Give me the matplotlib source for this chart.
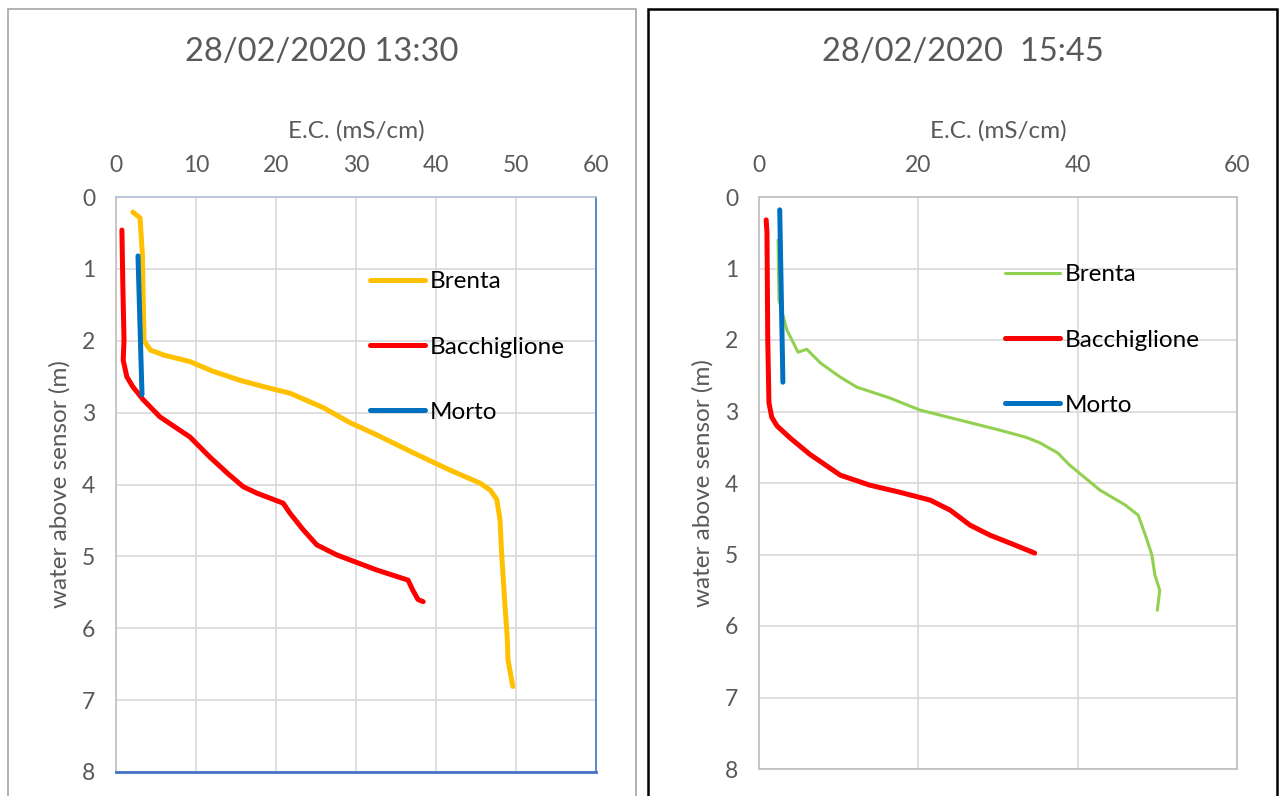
import matplotlib.pyplot as plt
from matplotlib.patches import Rectangle

plt.rcParams['font.family'] = ['Lato', 'DejaVu Sans']

# --- 28/02/2020 13:30 profiles (E.C. in mS/cm, depth in m) ---
brenta1_ec = [2.1, 3.0, 3.3, 3.4, 3.5, 4.3, 6.0, 9.25, 12.0, 15.5, 18.5, 21.75, 25.9, 29.25,
              32.6, 37.0, 41.75, 43.0, 45.5, 46.8, 47.6, 48.0, 48.2, 48.6, 48.9, 49.0, 49.6]
brenta1_h = [0.21, 0.29, 0.8, 1.43, 2.0, 2.13, 2.2, 2.29, 2.42, 2.55, 2.64, 2.73, 2.93, 3.14,
             3.31, 3.55, 3.8, 3.86, 3.98, 4.08, 4.21, 4.49, 4.95, 5.65, 6.12, 6.44, 6.81]

bacch1_ec = [0.74, 0.85, 1.0, 0.9, 1.35, 2.1, 3.4, 5.5, 9.25, 11.75, 14.0, 15.9, 17.6, 20.9,
             21.75, 23.4, 25.1, 27.6, 32.6, 36.5, 37.1, 37.75, 38.4]
bacch1_h = [0.46, 1.2, 1.99, 2.27, 2.5, 2.64, 2.82, 3.06, 3.34, 3.62, 3.85, 4.03, 4.12, 4.26,
            4.4, 4.63, 4.84, 4.98, 5.19, 5.33, 5.47, 5.6, 5.63]

morto1_ec = [2.75, 3.25]
morto1_h = [0.82, 2.75]

# --- 28/02/2020 15:45 profiles ---
brenta2_ec = [2.4, 2.5, 3.5, 4.9, 6.0, 7.7, 10.2, 12.3, 16.4, 20.2, 25.2, 30.2, 33.5, 35.3,
              37.5, 39.0, 42.8, 46.0, 47.6, 48.5, 49.3, 49.7, 50.3, 50.0]
brenta2_h = [0.6, 1.44, 1.86, 2.17, 2.13, 2.32, 2.52, 2.66, 2.81, 2.98, 3.12, 3.26, 3.36, 3.44,
             3.58, 3.75, 4.1, 4.31, 4.45, 4.73, 5.0, 5.29, 5.5, 5.78]

bacch2_ec = [0.9, 1.0, 1.1, 1.25, 1.6, 2.25, 3.9, 6.4, 10.2, 13.9, 17.7, 21.5, 24.0, 26.5, 29.0,
             31.5, 34.6]
bacch2_h = [0.32, 0.5, 2.0, 2.88, 3.08, 3.2, 3.37, 3.6, 3.89, 4.03, 4.13, 4.24, 4.38, 4.59, 4.73,
            4.84, 4.98]

morto2_ec = [2.6, 3.0]
morto2_h = [0.18, 2.59]

series_names = ['Brenta', 'Bacchiglione', 'Morto']
titles = ['28/02/2020 13:30', '28/02/2020  15:45']
xticks_left = [0, 10, 20, 30, 40, 50, 60]
xticks_right = [0, 20, 40, 60]
yticks = [0, 1, 2, 3, 4, 5, 6, 7, 8]

YELLOW = '#FFC000'
RED = '#FF0000'
BLUE = '#0070C0'
GREEN = '#92D050'
GRID = '#D9D9D9'
TXT = '#595959'

W, H = 1279, 796
fig = plt.figure(figsize=(W / 100, H / 100), dpi=100)


def px_axes(x0, y0, x1, y1):
    # pixel box (top-left origin) -> figure fraction axes
    return fig.add_axes([x0 / W, 1 - y1 / H, (x1 - x0) / W, (y1 - y0) / H])


# panel frames
fig.add_artist(Rectangle((8 / W, -0.05), 628 / W, 1.05 - 9 / H, transform=fig.transFigure,
                         fill=False, edgecolor='#A6A6A6', lw=1.2))
fig.add_artist(Rectangle((648 / W, -0.05), 629 / W, 1.05 - 9 / H, transform=fig.transFigure,
                         fill=False, edgecolor='black', lw=1.8))

ax1 = px_axes(116, 197, 596, 772)
ax2 = px_axes(759, 197, 1237, 769)

ax1.plot(brenta1_ec, brenta1_h, color=YELLOW, lw=3.6, solid_capstyle='round',
         solid_joinstyle='round', label=series_names[0])
ax1.plot(bacch1_ec, bacch1_h, color=RED, lw=3.6, solid_capstyle='round',
         solid_joinstyle='round', label=series_names[1])
ax1.plot(morto1_ec, morto1_h, color=BLUE, lw=3.6, solid_capstyle='round', label=series_names[2])

ax2.plot(brenta2_ec, brenta2_h, color=GREEN, lw=2.2, solid_capstyle='round',
         solid_joinstyle='round', label=series_names[0])
ax2.plot(bacch2_ec, bacch2_h, color=RED, lw=3.6, solid_capstyle='round',
         solid_joinstyle='round', label=series_names[1])
ax2.plot(morto2_ec, morto2_h, color=BLUE, lw=3.6, solid_capstyle='round', label=series_names[2])

for ax, xt in ((ax1, xticks_left), (ax2, xticks_right)):
    ax.set_xlim(0, 60)
    ax.set_ylim(8, 0)
    ax.set_xticks(xt)
    ax.set_yticks(yticks)
    ax.xaxis.tick_top()
    ax.xaxis.set_label_position('top')
    ax.grid(True, color=GRID, lw=1.2)
    ax.set_axisbelow(True)
    ax.tick_params(length=0, labelsize=16.5, labelcolor=TXT)
    ax.tick_params(axis='x', pad=15)
    ax.tick_params(axis='y', pad=15)
    ax.set_xlabel('E.C. (mS/cm)', fontsize=17.5, color=TXT, labelpad=13)
    ax.set_ylabel('water above sensor (m)', fontsize=17.5, color=TXT, labelpad=8)
    for s in ax.spines.values():
        s.set_color('#BFBFBF')
        s.set_linewidth(1.2)

ax1.spines['right'].set_color('#4472C4')
ax1.spines['bottom'].set_color('#4472C4')
ax1.spines['bottom'].set_linewidth(2)
ax1.spines['top'].set_color('#B4C0D8')

leg_kw = dict(frameon=False, fontsize=17.5, handlelength=2.26, handletextpad=0.2,
              labelspacing=1.82, borderpad=0, borderaxespad=0, loc='center left')
ax1.legend(bbox_to_anchor=(0.529, 0.739), **leg_kw)
ax2.legend(bbox_to_anchor=(0.515, 0.75), **leg_kw)

fig.text(322 / W, 1 - 52 / H, titles[0], fontsize=23.5, color=TXT, ha='center', va='center')
fig.text(963 / W, 1 - 52 / H, titles[1], fontsize=23.5, color=TXT, ha='center', va='center')

fig.savefig('out.png', dpi=100)
